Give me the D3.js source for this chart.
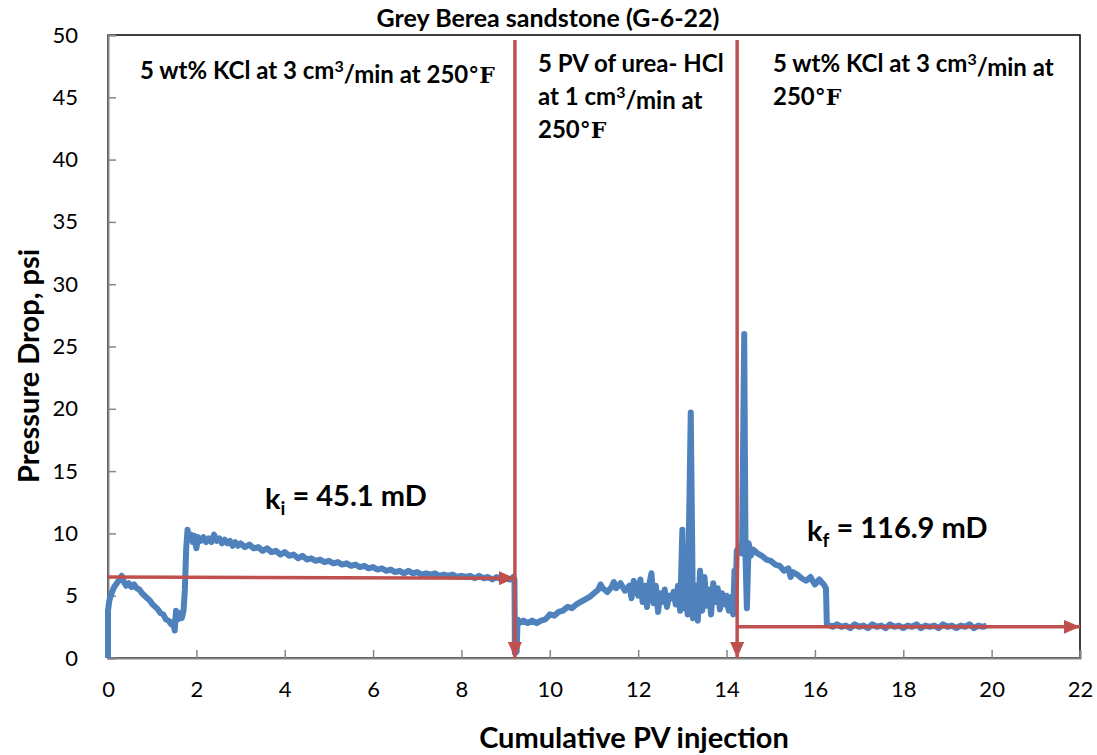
<!DOCTYPE html>
<html>
<head>
<meta charset="utf-8">
<script src="https://cdn.jsdelivr.net/npm/d3@7/dist/d3.min.js"></script>
<style>
  body { margin: 0; background: #fff; }
  text { font-family: Lato, "Open Sans", sans-serif; fill: #000; }
  .tick text { font-size: 22px; }
</style>
</head>
<body>
<div class="chart"></div>
<script>
var w = 1097;
var h = 755;
var margin = {top: 35, right: 17, bottom: 97, left: 108};

var xTicks = [0, 2, 4, 6, 8, 10, 12, 14, 16, 18, 20, 22];
var yTicks = [0, 5, 10, 15, 20, 25, 30, 35, 40, 45, 50];

// [cumulative PV, pressure drop psi]
var initialKcl = [[0,0],[0,3.8],[0.03,4.6],[0.08,5.2],[0.14,5.7],[0.2,6.0],[0.26,6.3],[0.31,6.6],[0.36,6.1],[0.41,5.8],
  [0.47,6.0],[0.53,5.7],[0.59,5.9],[0.65,5.6],[0.71,5.5],[0.77,5.2],[0.83,5.0],[0.89,4.8],[0.95,4.6],[1.01,4.3],
  [1.07,4.1],[1.13,3.9],[1.19,3.6],[1.25,3.5],[1.31,3.1],[1.37,3.0],[1.43,2.7],[1.48,2.9],[1.51,2.2],[1.54,3.8],
  [1.58,3.1],[1.62,3.6],[1.67,3.2],[1.71,3.8],[1.74,5.5],[1.77,8.8],[1.8,10.3],[1.84,9.5],[1.88,9.9],[1.92,9.3],
  [1.96,9.8],[2.0,8.8],[2.04,9.7],[2.1,9.4],[2.16,9.7],[2.22,9.3],[2.28,9.6],[2.34,9.3],[2.4,9.9],[2.46,9.4],
  [2.52,9.6],[2.58,9.2],[2.64,9.5],[2.7,9.2],[2.76,9.4],[2.82,9.0],[2.88,9.3],[2.94,9.0],[3.0,9.2],[3.1,8.9],
  [3.2,9.1],[3.3,8.8],[3.4,8.9],[3.5,8.6],[3.6,8.8],[3.7,8.5],[3.8,8.6],[3.9,8.3],[4.0,8.5],[4.1,8.2],
  [4.2,8.3],[4.3,8.0],[4.4,8.2],[4.5,7.9],[4.6,8.0],[4.7,7.8],[4.8,7.9],[4.9,7.7],[5.0,7.8],[5.1,7.6],
  [5.2,7.7],[5.3,7.5],[5.4,7.6],[5.5,7.4],[5.6,7.5],[5.7,7.3],[5.8,7.4],[5.9,7.2],[6.0,7.3],[6.1,7.1],
  [6.2,7.2],[6.3,7.0],[6.4,7.1],[6.5,6.9],[6.6,7.0],[6.7,6.8],[6.8,7.0],[6.9,6.8],[7.0,6.9],[7.1,6.7],
  [7.2,6.8],[7.3,6.7],[7.4,6.8],[7.5,6.6],[7.6,6.7],[7.7,6.6],[7.8,6.7],[7.9,6.5],[8.0,6.6],[8.1,6.5],
  [8.2,6.6],[8.3,6.4],[8.4,6.6],[8.5,6.4],[8.6,6.5],[8.7,6.3],[8.8,6.5],[8.9,6.3],[9.0,6.4],[9.1,6.3],
  [9.17,6.5],[9.2,6.3],[9.21,0.4],[9.25,0.5]];

var ureaHcl = [[9.27,3.1],[9.3,2.8],[9.4,3.0],[9.5,2.8],[9.6,3.0],[9.7,2.8],[9.8,3.0],[9.9,3.1],[10.0,3.5],[10.1,3.4],
  [10.2,3.7],[10.3,3.8],[10.4,4.1],[10.5,4.0],[10.6,4.3],[10.7,4.5],[10.8,4.7],[10.9,4.9],[11.0,5.2],[11.1,5.5],
  [11.15,5.9],[11.2,5.6],[11.3,5.3],[11.4,5.7],[11.45,6.1],[11.5,5.6],[11.6,6.0],[11.7,5.4],[11.8,5.8],[11.85,4.8],
  [11.9,6.2],[12.0,5.0],[12.05,6.3],[12.1,4.5],[12.15,5.8],[12.2,4.1],[12.25,5.9],[12.3,6.8],[12.35,4.4],[12.4,5.8],
  [12.45,3.7],[12.5,5.2],[12.55,4.5],[12.6,5.5],[12.65,4.1],[12.7,5.0],[12.75,4.8],[12.8,5.3],[12.85,4.3],[12.9,5.8],
  [12.95,3.8],[13.0,10.3],[13.03,4.0],[13.08,6.2],[13.12,3.5],[13.19,19.7],[13.24,3.2],[13.3,5.8],[13.35,3.0],[13.4,7.0],
  [13.45,3.8],[13.5,6.5],[13.55,4.2],[13.6,5.5],[13.65,3.5],[13.7,6.0],[13.75,4.5],[13.8,5.6],[13.85,3.9],[13.9,5.2],
  [13.95,4.3],[14.0,5.0],[14.05,3.8],[14.1,4.9],[14.15,3.5],[14.18,7.0],[14.2,4.0]];

var finalKcl = [[14.23,8.6],[14.3,9.0],[14.35,8.4],[14.4,26.0],[14.43,8.0],[14.46,4.0],[14.5,9.2],[14.55,8.2],[14.6,8.7],[14.7,8.4],
  [14.8,8.2],[14.9,7.9],[15.0,7.8],[15.1,7.5],[15.2,7.4],[15.3,7.0],[15.4,7.2],[15.45,6.5],[15.5,6.9],[15.6,6.7],
  [15.7,6.4],[15.8,6.2],[15.9,6.5],[16.0,5.9],[16.1,6.3],[16.2,5.9],[16.25,5.6],[16.27,2.7],[16.4,2.5],[16.5,2.7],
  [16.6,2.5],[16.7,2.6],[16.8,2.4],[16.9,2.7],[17.0,2.5],[17.1,2.6],[17.2,2.4],[17.3,2.7],[17.4,2.5],[17.5,2.6],
  [17.6,2.4],[17.7,2.7],[17.8,2.5],[17.9,2.6],[18.0,2.4],[18.1,2.6],[18.2,2.5],[18.3,2.7],[18.4,2.4],[18.5,2.6],
  [18.6,2.5],[18.7,2.6],[18.8,2.4],[18.9,2.7],[19.0,2.5],[19.1,2.6],[19.2,2.4],[19.3,2.6],[19.4,2.5],[19.5,2.7],
  [19.6,2.4],[19.7,2.6],[19.8,2.5],[19.89,2.6]];

// red guide arrows [x1, y1, x2, y2]
var arrows = [[0, 6.5, 9.21, 6.4], [9.21, 49.6, 9.21, 0], [14.24, 49.6, 14.24, 0], [14.24, 2.5, 22, 2.5]];

var svg = d3.select(".chart")
            .append("svg")
            .attr("width", w)
            .attr("height", h);

var iw = w - margin.left - margin.right;
var ih = h - margin.top - margin.bottom;

var xScale = d3.scaleLinear().domain([0, 22]).range([0, iw]);
var yScale = d3.scaleLinear().domain([0, 50]).range([ih, 0]);

var g = svg.append("g").attr("transform", "translate(" + margin.left + "," + margin.top + ")");

// frame
g.append("rect")
  .attr("width", iw).attr("height", ih)
  .attr("fill", "none").attr("stroke", "#000").attr("stroke-width", 1.5);

// axes
var xAxis = g.append("g")
  .attr("transform", "translate(0," + ih + ")")
  .call(d3.axisBottom(xScale).tickValues(xTicks).tickSize(-8).tickPadding(20));
var yAxis = g.append("g")
  .call(d3.axisLeft(yScale).tickValues(yTicks).tickSize(-8).tickPadding(30));
[xAxis, yAxis].forEach(function (a) {
  a.select(".domain").attr("stroke", "#868686").attr("stroke-width", 2);
  a.selectAll(".tick line").attr("stroke", "#868686").attr("stroke-width", 1.5);
  a.attr("font-family", null).attr("font-size", null);
});
xAxis.selectAll(".tick text").attr("dy", "0.85em");

// data line
var line = d3.line()
  .x(function (d) { return xScale(d[0]); })
  .y(function (d) { return yScale(d[1]); });

var joined = initialKcl.concat(ureaHcl, finalKcl);
g.append("path")
  .datum(joined)
  .attr("d", line)
  .attr("fill", "none")
  .attr("stroke", "#4f81bd")
  .attr("stroke-width", 6)
  .attr("stroke-linejoin", "round");

// arrows
svg.append("defs").append("marker")
  .attr("id", "head")
  .attr("viewBox", "0 0 16 14")
  .attr("refX", 16).attr("refY", 7)
  .attr("markerWidth", 16).attr("markerHeight", 14)
  .attr("markerUnits", "userSpaceOnUse")
  .attr("orient", "auto")
  .append("path")
  .attr("d", "M0,0L16,7L0,14Z")
  .attr("fill", "#c0504d");

g.selectAll(".arrow")
  .data(arrows)
  .enter()
  .append("line")
  .attr("class", "arrow")
  .attr("x1", function (d) { return xScale(d[0]); })
  .attr("y1", function (d) { return yScale(d[1]); })
  .attr("x2", function (d) { return xScale(d[2]); })
  .attr("y2", function (d) { return yScale(d[3]); })
  .attr("stroke", "#c0504d")
  .attr("stroke-width", 3.5)
  .attr("marker-end", "url(#head)");

// titles
svg.append("text")
  .attr("x", 548).attr("y", 27)
  .attr("text-anchor", "middle")
  .attr("font-size", 25).attr("font-weight", "bold")
  .text("Grey Berea sandstone (G-6-22)");

svg.append("text")
  .attr("x", 634).attr("y", 748)
  .attr("text-anchor", "middle")
  .attr("font-size", 29).attr("font-weight", "bold")
  .text("Cumulative PV injection");

svg.append("text")
  .attr("transform", "translate(39,366) rotate(-90)")
  .attr("text-anchor", "middle")
  .attr("font-size", 29).attr("font-weight", "bold")
  .text("Pressure Drop, psi");

// stage notes
function note(x, y, lines) {
  var t = svg.append("text")
    .attr("x", x).attr("y", y)
    .attr("font-size", 24).attr("font-weight", "bold");
  lines.forEach(function (parts, i) {
    parts.forEach(function (p, j) {
      var s = t.append("tspan").text(p[0]);
      if (j === 0) s.attr("x", x).attr("y", y + i * 33);
      if (p[1] === "sup") s.attr("font-size", 16).attr("dy", "-0.45em");
      if (p[1] === "after") s.attr("dy", "0.45em");
      if (p[1] === "serif") s.attr("font-family", "'DejaVu Serif', serif").attr("font-size", 22);
    });
  });
}
note(140, 79, [[["5 wt% KCl at 3 cm"], ["3", "sup"], ["/min at 250", "after"], ["°F", "serif"]]]);
note(538, 72, [[["5 PV of urea- HCl"]],
               [["at 1 cm"], ["3", "sup"], ["/min at", "after"]],
               [["250"], ["°F", "serif"]]]);
note(773, 72, [[["5 wt% KCl at 3 cm"], ["3", "sup"], ["/min at", "after"]],
               [["250"], ["°F", "serif"]]]);

// permeability labels
function perm(x, y, sub, rest) {
  var t = svg.append("text").attr("x", x).attr("y", y)
    .attr("font-size", 29).attr("font-weight", "bold");
  t.append("tspan").text("k");
  t.append("tspan").text(sub).attr("font-size", 19).attr("dy", "0.3em");
  t.append("tspan").text(rest).attr("dy", "-0.3em");
}
perm(265, 509, "i", " = 45.1 mD");
perm(807, 541, "f", " = 116.9 mD");
</script>
</body>
</html>
